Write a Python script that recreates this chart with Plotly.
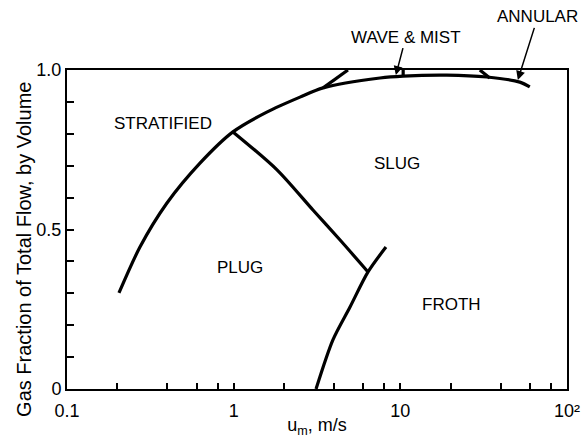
import math
import plotly.graph_objects as go

# ---- data ----
# stratified boundary (lower-left curve continuing along the top)
strat_x = [0.205, 0.274, 0.398, 0.628, 0.99, 1.58, 2.50, 3.44, 7.55, 10.4, 19.0, 33.1, 52.1, 59.8]
strat_y = [0.301, 0.445, 0.583, 0.708, 0.806, 0.868, 0.915, 0.944, 0.975, 0.981, 0.984, 0.978, 0.962, 0.947]
# plug / slug boundary
plug_x = [0.99, 1.82, 2.99, 4.35, 6.40]
plug_y = [0.806, 0.687, 0.561, 0.467, 0.367]
# froth boundary
froth_x = [3.12, 3.94, 4.99, 6.40, 8.20]
froth_y = [0.0, 0.154, 0.257, 0.367, 0.445]
# short branches near the top
wave_branch_x = [3.44, 4.85]
wave_branch_y = [0.944, 1.0]
mist_mark_x = [10.4, 10.4]
mist_mark_y = [0.981, 1.0]
annular_branch_x = [30.0, 34.4]
annular_branch_y = [1.0, 0.975]

regions = ["STRATIFIED", "PLUG", "SLUG", "FROTH"]
region_x = [0.377, 1.09, 9.55, 20.4]
region_y = [0.831, 0.382, 0.708, 0.266]

# arrow-labelled regions: arrow tip (data)
arrow_labels = ["WAVE & MIST", "ANNULAR"]
arrow_tip_x = [9.4, 50.7]
arrow_tip_y = [0.984, 0.969]

x_tickvals = [0.1, 0.2, 0.4, 0.6, 0.8, 1, 2, 4, 6, 8, 10, 20, 40, 60, 80, 100]
x_ticktext = ["0.1", "", "", "", "", "1", "", "", "", "", "10", "", "", "", "", "10²"]
y_tickvals = [0, 0.1, 0.2, 0.3, 0.4, 0.5, 0.6, 0.7, 0.8, 0.9, 1.0]
y_ticktext = ["0", "", "", "", "", "0.5", "", "", "", "", "1.0"]

FONT = "Liberation Sans, Arial, sans-serif"
LW = 3.2

fig = go.Figure()
for xs, ys, shape in [
    (strat_x, strat_y, "spline"),
    (plug_x, plug_y, "spline"),
    (froth_x, froth_y, "spline"),
    (wave_branch_x, wave_branch_y, "linear"),
    (mist_mark_x, mist_mark_y, "linear"),
    (annular_branch_x, annular_branch_y, "linear"),
]:
    fig.add_trace(go.Scatter(x=xs, y=ys, mode="lines",
                             line=dict(color="black", width=LW, shape=shape, smoothing=0.8),
                             showlegend=False, hoverinfo="skip", cliponaxis=False))

for t, x, y in zip(regions, region_x, region_y):
    fig.add_annotation(x=math.log10(x), y=y, xref="x", yref="y", text=t, showarrow=False,
                       font=dict(family=FONT, size=17, color="black"))

# labels above the plot with arrows (text at tail, pixel offsets)
tail_offsets = [(10, -38), (20, -63)]
for t, x, y, (ax, ay) in zip(arrow_labels, arrow_tip_x, arrow_tip_y, tail_offsets):
    fig.add_annotation(x=math.log10(x), y=y, xref="x", yref="y", text=t, showarrow=True,
                       ax=ax, ay=ay, arrowhead=2, arrowsize=1.2, arrowwidth=1.5, arrowcolor="black",
                       standoff=0, startstandoff=0,
                       font=dict(family=FONT, size=17, color="black"))

# y-axis title as rotated annotation
fig.add_annotation(x=-0.086, y=0.436, xref="paper", yref="paper", xanchor="center", yanchor="middle",
                   text="Gas Fraction of Total Flow, by Volume", textangle=-90, showarrow=False,
                   font=dict(family=FONT, size=20, color="black"))

fig.update_xaxes(type="log", range=[-1, 2], tickmode="array", tickvals=x_tickvals, ticktext=x_ticktext,
                 ticks="inside", ticklen=6, tickwidth=1.5, tickcolor="black", automargin=False,
                 showline=True, linecolor="black", linewidth=2, mirror=True, showgrid=False, zeroline=False,
                 tickfont=dict(family=FONT, size=18, color="black"), ticklabelstandoff=4,
                 title=dict(text="u<sub>m</sub>, m/s", font=dict(family=FONT, size=18, color="black"), standoff=2))
fig.update_yaxes(range=[0, 1], tickmode="array", tickvals=y_tickvals, ticktext=y_ticktext,
                 ticks="inside", ticklen=7, tickwidth=1.5, tickcolor="black", automargin=False,
                 showline=True, linecolor="black", linewidth=2,
                 mirror=True, showgrid=False, zeroline=False,
                 tickfont=dict(family=FONT, size=18, color="black"))

fig.update_layout(width=581, height=438, margin=dict(l=67, r=14, t=70, b=49),
                  paper_bgcolor="white", plot_bgcolor="white", showlegend=False)
fig.write_html("out.html")
